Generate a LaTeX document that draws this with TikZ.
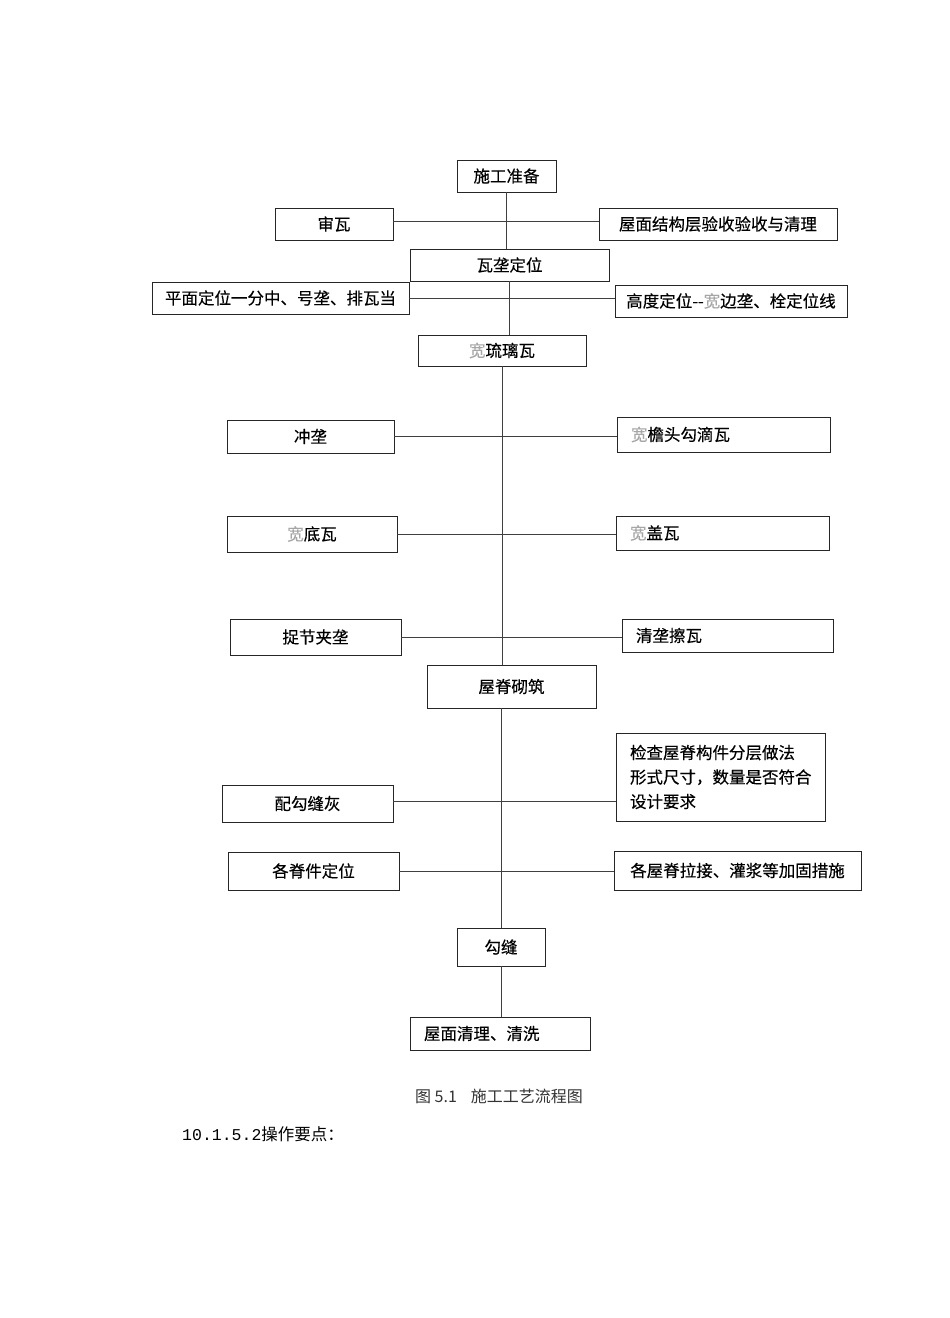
\documentclass[tikz,border=0pt]{standalone}
\usepackage{fontspec}
\setmainfont{Noto Sans CJK SC}
\newfontfamily\boxfont[FakeBold=0.3]{Noto Sans CJK SC}
\newfontfamily\numfont{Liberation Mono}
\newcommand\wachar{\textcolor{black!35}{宽}}
\begin{document}
\begin{tikzpicture}[x=1pt,y=-1pt,
  blk/.style={draw=black!85, line width=0.9pt, inner sep=0pt, font=\boxfont\fontsize{16.5}{24.5}\selectfont},
  lblk/.style={blk, inner xsep=14pt, align=left},
  lnk/.style={draw=black!75, line width=0.8pt}]
\useasboundingbox (0,0) rectangle (950,1318);
\node[blk, minimum width=99pt, minimum height=32pt] (prep) at (506.5,176){施工准备};
\node[blk, minimum width=118pt, minimum height=32pt] (shen) at (334,224){审瓦};
\node[blk, minimum width=238pt, minimum height=32pt] (wmjg) at (718,224){屋面结构层验收验收与清理};
\node[blk, minimum width=199pt, minimum height=32pt] (wldw) at (509.5,265){瓦垄定位};
\node[blk, minimum width=257pt, minimum height=32pt] (pmdw) at (280.5,298){平面定位一分中、号垄、排瓦当};
\node[blk, minimum width=232pt, minimum height=32pt] (gddw) at (731,301){高度定位-{}-\wachar 边垄、栓定位线};
\node[blk, minimum width=168pt, minimum height=31pt] (wlll) at (502,350.5){\wachar 琉璃瓦};
\node[blk, minimum width=167pt, minimum height=33pt] (chl) at (310.5,436.5){冲垄};
\node[lblk, text width=185pt, minimum height=35pt] (ytgd) at (723.5,434.5){\wachar 檐头勾滴瓦};
\node[blk, minimum width=170pt, minimum height=36pt] (ddw) at (312,534){\wachar 底瓦};
\node[lblk, text width=185pt, minimum height=34pt] (gaiw) at (722.5,533){\wachar 盖瓦};
\node[blk, minimum width=171pt, minimum height=36pt] (zjjl) at (315.5,637){捉节夹垄};
\node[lblk, text width=183pt, minimum height=33pt] (qlcw) at (727.5,635.5){清垄擦瓦};
\node[blk, minimum width=169pt, minimum height=43pt] (wjqz) at (511.5,686.5){屋脊砌筑};
\node[lblk, text width=181pt, minimum height=88pt] (jcwj) at (720.5,777){检查屋脊构件分层做法\\形式尺寸，数量是否符合\\设计要求};
\node[blk, minimum width=171pt, minimum height=37pt] (pgfh) at (307.5,803.5){配勾缝灰};
\node[blk, minimum width=171pt, minimum height=38pt] (gjdw) at (313.5,871){各脊件定位};
\node[blk, minimum width=247pt, minimum height=39pt] (gwjl) at (737.5,870.5){各屋脊拉接、灌浆等加固措施};
\node[blk, minimum width=88pt, minimum height=38pt] (gf) at (501,947){勾缝};
\node[lblk, text width=152pt, minimum height=33pt] (wmql) at (500,1033.5){屋面清理、清洗};
\node[font=\fontsize{16}{18}\selectfont, text=black!80] (cap) at (499,1096){图 5.1\hspace{14pt}施工工艺流程图};
\node[font=\fontsize{16.5}{18}\selectfont, anchor=west, inner sep=0pt] (pts) at (182,1134){{\numfont 10.1.5.2}操作要点：};
\draw[lnk] (prep.south) -- (prep.south |- wldw.north);
\draw[lnk] (wldw.south) -- (wldw.south |- wlll.north);
\draw[lnk] (wlll.south) -- (wlll.south |- wjqz.north);
\draw[lnk] (gf.north |- wjqz.south) -- (gf.north);
\draw[lnk] (gf.south) -- (gf.south |- wmql.north);
\draw[lnk] ([yshift=3pt]shen.east) -- ([yshift=3pt]shen.east -| wmjg.west);
\draw[lnk] (pmdw.east) -- (pmdw.east -| gddw.west);
\draw[lnk] (chl.east) -- (chl.east -| ytgd.west);
\draw[lnk] (ddw.east) -- (ddw.east -| gaiw.west);
\draw[lnk] (zjjl.east) -- (zjjl.east -| qlcw.west);
\draw[lnk] ([yshift=2pt]pgfh.east) -- ([yshift=2pt]pgfh.east -| jcwj.west);
\draw[lnk] (gjdw.east) -- (gjdw.east -| gwjl.west);
\end{tikzpicture}
\end{document}
